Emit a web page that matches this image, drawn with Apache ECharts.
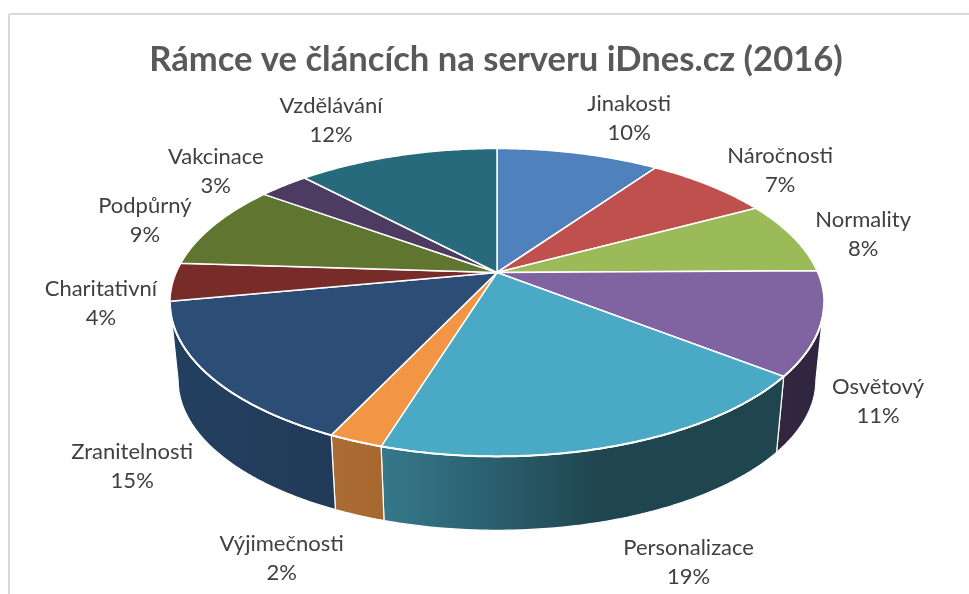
<!DOCTYPE html>
<html>
<head>
<meta charset="utf-8">
<style>html,body{margin:0;padding:0;background:#fff}#c{width:969px;height:594px}</style>
<script src="https://cdn.jsdelivr.net/npm/echarts@6/dist/echarts.min.js"></script>
</head>
<body>
<div id="c"></div>
<script>
const categories = ['Jinakosti','Náročnosti','Normality','Osvětový','Personalizace','Výjimečnosti','Zranitelnosti','Charitativní','Podpůrný','Vakcinace','Vzdělávání'];
const shares = [9.7,7.45,7.65,10.8,19.15,2.25,15,4,9,3,12];
const topColors = ['#4F81BD','#C0504D','#9BBB59','#8064A2','#4AA9C4','#F29545','#2C4D75','#772C2A','#5F7530','#4D3B62','#276A7C'];
const wallColors = [
  ['#3b608e','#3b608e'],['#903c3a','#903c3a'],['#748c43','#748c43'],['#33273f','#2f2540'],
  ['#35798c','#1f454f'],['#ab6d34','#a7672f'],['#234061','#223a59'],['#59211f','#59211f'],
  ['#475824','#475824'],['#3a2c4a','#3a2c4a'],['#1d505d','#1d505d']
];
const labelNudges = [[51,-35],[71,-15],[70,-3],[57,78],[74,116],[-74,117],[-77,91],[-72,21.5],[-69,-5],[-68,-14],[-66,-35]];

// perspective view of the pie disc
const view = {cx:497, cy:272.5, a:320.8, b:148.1, k:0.1946, depth:78.5, shrink:0.975};
const total = shares.reduce((s,v)=>s+v,0);
const cum = shares.reduce((acc,v)=>{acc.push(acc[acc.length-1]+v);return acc;},[0]);
// the rim is widest on screen where cos(t) = -k: the wall is visible only between those points
const wallStart = (Math.PI-Math.asin(Math.sqrt(1-view.k*view.k)))/(2*Math.PI)*total;
const wallEnd = total-wallStart;

function rim(pct, bottom){
  const t = pct/total*2*Math.PI, u=Math.sin(t), v=Math.cos(t), w=1+view.k*v;
  const s = bottom?view.shrink:1;
  return [view.cx + s*view.a*u/w, view.cy + (bottom?view.depth:0) - s*view.b*v/w];
}
function arc(from,to,bottom){
  const n = Math.max(4,Math.ceil((to-from)*6)), pts=[];
  for(let i=0;i<=n;i++) pts.push(rim(from+(to-from)*i/n,bottom));
  return pts;
}
const FONT = 'Lato, "Noto Sans", sans-serif';

function renderItem(params, api){
  const i = params.dataIndex, val = api.value(0), from = cum[i], to = from+val;
  const children = [];
  const wFrom = Math.max(from,wallStart), wTo = Math.min(to,wallEnd);
  children.push({type:'polygon',z2:5,shape:{points:[[view.cx,view.cy]].concat(arc(from,to,false))},
    style:{fill:topColors[i],stroke:'#ffffff',lineWidth:1.5,lineJoin:'round'}});
  if(wFrom<wTo){
    const topArc = arc(wFrom,wTo,false), botArc = arc(wFrom,wTo,true);
    const grad = new echarts.graphic.LinearGradient(0,0,1,0,[
      {offset:0,color:wallColors[i][0]},{offset:i===4?0.55:1,color:wallColors[i][1]},{offset:1,color:wallColors[i][1]}]);
    children.push({type:'polygon',z2:1,shape:{points:topArc.concat(botArc.slice().reverse())},
      style:{fill:grad,stroke:'#ffffff',lineWidth:1.2,lineJoin:'round'}});
    children.push({type:'polyline',z2:6,shape:{points:topArc},style:{stroke:'#ffffff',lineWidth:2,fill:null}});
  }
  const anchor = rim((from+to)/2,false), nudge = labelNudges[i];
  children.push({type:'text',z2:10,x:anchor[0]+nudge[0],y:anchor[1]+nudge[1],
    style:{text:categories[i]+'\n'+Math.round(val/total*100)+'%',fill:'#404040',font:'400 22px '+FONT,
      align:'center',verticalAlign:'middle',lineHeight:29}});
  return {type:'group',children};
}

const chart = echarts.init(document.getElementById('c'),null,{renderer:'canvas'});
chart.setOption({
  animation:false,
  backgroundColor:'#ffffff',
  title:{text:'Rámce ve článcích na serveru iDnes.cz (2016)',left:491,top:37,textAlign:'center',
    textStyle:{color:'#595959',fontFamily:FONT,fontWeight:700,fontSize:34.6}},
  graphic:[
    {type:'line',shape:{x1:9,y1:14,x2:969,y2:14},style:{stroke:'#d9d9d9',lineWidth:2}},
    {type:'line',shape:{x1:9,y1:14,x2:9,y2:594},style:{stroke:'#d9d9d9',lineWidth:2}}
  ],
  series:[{type:'custom',coordinateSystem:'none',renderItem,data:shares.map((v,i)=>({name:categories[i],value:[v]})),encode:{value:0},silent:true}]
});
</script>
</body>
</html>
